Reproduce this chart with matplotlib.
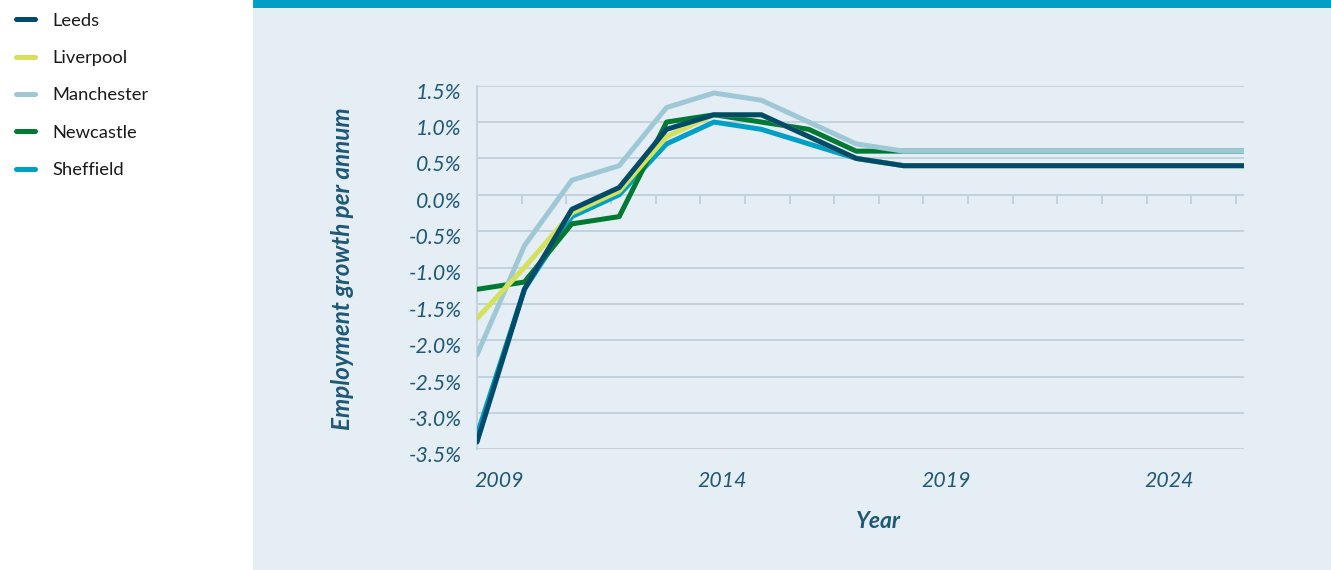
import matplotlib
matplotlib.use("Agg")
import matplotlib.pyplot as plt
from matplotlib.patches import Rectangle
from matplotlib.transforms import ScaledTranslation

plt.rcParams['font.family'] = ['Lato', 'DejaVu Sans']

# ---- data ----
years = list(range(2009, 2027))
leeds      = [-3.4, -1.3, -0.2, 0.1, 0.9, 1.1, 1.1, 0.8, 0.5, 0.4, 0.4, 0.4, 0.4, 0.4, 0.4, 0.4, 0.4, 0.4]
liverpool  = [-1.7, -1.0, -0.25, 0.05, 0.8, 1.1, 1.1, 0.8, 0.5, 0.4, 0.4, 0.4, 0.4, 0.4, 0.4, 0.4, 0.4, 0.4]
manchester = [-2.2, -0.7, 0.2, 0.4, 1.2, 1.4, 1.3, 1.0, 0.7, 0.6, 0.6, 0.6, 0.6, 0.6, 0.6, 0.6, 0.6, 0.6]
newcastle  = [-1.3, -1.2, -0.4, -0.3, 1.0, 1.1, 1.0, 0.9, 0.6, 0.6, 0.6, 0.6, 0.6, 0.6, 0.6, 0.6, 0.6, 0.6]
sheffield  = [-3.3, -1.3, -0.3, 0.0, 0.7, 1.0, 0.9, 0.7, 0.5, 0.4, 0.4, 0.4, 0.4, 0.4, 0.4, 0.4, 0.4, 0.4]

series_names = ['Leeds', 'Liverpool', 'Manchester', 'Newcastle', 'Sheffield']
series_values = [leeds, liverpool, manchester, newcastle, sheffield]
series_colors = ['#004b6b', '#d5e05b', '#9ec8d5', '#007a33', '#00a0c6']

y_ticks = [1.5, 1.0, 0.5, 0.0, -0.5, -1.0, -1.5, -2.0, -2.5, -3.0, -3.5]
x_tick_labels = ['2009', '2014', '2019', '2024']

# ---- style ----
W, H = 1331, 570
panel_col = '#e6eef5'
bar_col = '#00a0c6'
grid_col = '#c2d3df'
text_col = '#1d5878'

fig = plt.figure(figsize=(W / 100, H / 100), dpi=100)
fig.patch.set_facecolor('white')
fig.patches.append(Rectangle((253 / W, 0), 1 - 253 / W, 1, transform=fig.transFigure,
                             facecolor=panel_col, edgecolor='none', zorder=-3))
fig.patches.append(Rectangle((253 / W, 1 - 8 / H), 1 - 253 / W, 8 / H, transform=fig.transFigure,
                             facecolor=bar_col, edgecolor='none', zorder=-2))

left, right, top, bottom = 477, 1244, 85.7, 449.3
ax = fig.add_axes([left / W, 1 - bottom / H, (right - left) / W, (bottom - top) / H])
ax.set_facecolor('none')

px_per_year = 47.4
x0 = years[0]
x1 = x0 + (right - left) / px_per_year
ax.set_xlim(x0, x1)
ax.set_ylim(-3.5, 1.5)

handles = {}
for name, vals, col in reversed(list(zip(series_names, series_values, series_colors))):
    ln, = ax.plot(years, vals, color=col, lw=3.6, solid_capstyle='round',
                  solid_joinstyle='round', zorder=3)
    handles[name] = ln

# grid
ax.set_yticks(y_ticks)
ax.set_yticklabels([f'{v:.1f}%' for v in y_ticks])
ax.yaxis.grid(True, color=grid_col, lw=1.4)
ax.xaxis.grid(False)
for s in ['top', 'right', 'bottom']:
    ax.spines[s].set_visible(False)
ax.spines['left'].set_color(grid_col)
ax.spines['left'].set_linewidth(1.4)
ax.tick_params(axis='y', length=0, pad=11, labelsize=15.3, labelcolor=text_col)
for lab in ax.get_yticklabels():
    lab.set_fontstyle('italic')
    lab.set_transform(lab.get_transform() + ScaledTranslation(0, -5 / 100, fig.dpi_scale_trans))

# category-style ticks (17 intervals) hanging from the zero line
n_int = 17
tick_step = (1236 - left) / n_int / px_per_year
tick_pos = [x0 + k * tick_step for k in range(1, n_int + 1)]
label_idx = [0, 5, 10, 15]
label_pos = [x0 + (k + 0.5) * tick_step for k in label_idx]

ax.set_xticks(label_pos)
ax.set_xticklabels(x_tick_labels)
ax.tick_params(axis='x', length=0, pad=15.5, labelsize=15.3, labelcolor=text_col)
for lab in ax.get_xticklabels():
    lab.set_fontstyle('italic')

zero_frac = (0 - (-3.5)) / 5.0
sec = ax.secondary_xaxis(zero_frac)
sec.set_alignment('bottom')
sec.set_xticks(tick_pos)
sec.set_xticklabels([''] * len(tick_pos))
sec.tick_params(axis='x', direction='out', length=6.5, width=1.4, color=grid_col)
for s in sec.spines.values():
    s.set_visible(False)

# axis titles
ax.set_ylabel('Employment growth per annum', fontsize=17.5, fontweight='bold',
              fontstyle='italic', color=text_col)
ax.yaxis.set_label_coords((342 - left) / (right - left), (bottom - 269) / (bottom - top))
ax.yaxis.label.set_va('center')
ax.set_xlabel('Year', fontsize=16.5, fontweight='bold', fontstyle='italic', color=text_col)
ax.xaxis.set_label_coords((878 - left) / (right - left), (bottom - 521) / (bottom - top))
ax.xaxis.label.set_va('center')

# legend in the left white panel
fig.legend([handles[n] for n in series_names], series_names,
           loc='upper left', bbox_to_anchor=(16 / W, 1 - 12.5 / H),
           frameon=False, fontsize=13.2, borderpad=0, borderaxespad=0,
           handlelength=1.04, handletextpad=0.95, labelspacing=1.17,
           labelcolor='#1a1a1a')

fig.savefig('out.png', dpi=100, facecolor=fig.get_facecolor())
